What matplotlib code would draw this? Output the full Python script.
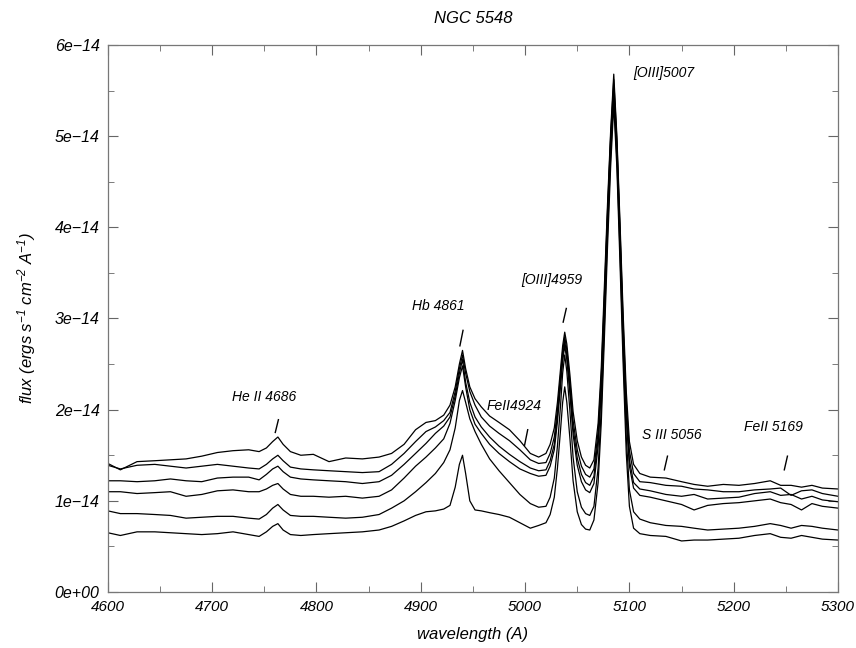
import matplotlib
matplotlib.use("Agg")
import matplotlib.pyplot as plt
import numpy as np
from matplotlib.ticker import MultipleLocator, FixedLocator, FixedFormatter

plt.rcParams['font.family'] = ['Liberation Sans', 'DejaVu Sans']
plt.rcParams['font.style'] = 'italic'
plt.rcParams['mathtext.fontset'] = 'custom'
plt.rcParams['mathtext.rm'] = 'Liberation Sans:italic'
plt.rcParams['mathtext.it'] = 'Liberation Sans:italic'

# observed wavelength (A)
wave = [4600, 4612, 4628, 4645, 4660, 4675, 4690, 4705, 4720, 4735, 4745, 4752, 4758, 4763, 4768,
        4775, 4785, 4797, 4812, 4828, 4844, 4860, 4872, 4884, 4895, 4905, 4914, 4922, 4928, 4933,
        4937, 4940, 4943, 4947, 4952, 4958, 4966, 4975, 4985, 4995, 5005,
        5013, 5020, 5024, 5028, 5031, 5034, 5036, 5038, 5040, 5043, 5046, 5050, 5054, 5058, 5062,
        5066, 5070, 5073, 5076, 5079, 5082, 5085, 5088, 5091, 5094, 5097, 5100, 5104, 5110,
        5120, 5135, 5150, 5162, 5175, 5190, 5205, 5220, 5235, 5245, 5255, 5265, 5275, 5285, 5300]

# flux in units of 1e-14 erg/s/cm2/A, six epochs from top to bottom
flux_a = [1.41, 1.34, 1.43, 1.44, 1.45, 1.46, 1.49, 1.53, 1.55, 1.56, 1.54, 1.58, 1.65, 1.70, 1.62,
          1.54, 1.50, 1.51, 1.43, 1.47, 1.46, 1.48, 1.52, 1.62, 1.78, 1.86, 1.88, 1.94, 2.05, 2.25,
          2.50, 2.65, 2.45, 2.25, 2.12, 2.03, 1.93, 1.86, 1.78, 1.66, 1.52,
          1.48, 1.52, 1.62, 1.80, 2.08, 2.45, 2.70, 2.85, 2.72, 2.38, 1.98, 1.66, 1.48, 1.39, 1.36,
          1.45, 1.85, 2.45, 3.35, 4.25, 5.05, 5.68, 5.00, 4.05, 3.05, 2.20, 1.65, 1.40, 1.30,
          1.26, 1.25, 1.21, 1.18, 1.16, 1.18, 1.17, 1.19, 1.22, 1.17, 1.17, 1.15, 1.17, 1.14, 1.13]
flux_b = [1.39, 1.35, 1.39, 1.40, 1.38, 1.36, 1.38, 1.40, 1.38, 1.36, 1.35, 1.40, 1.46, 1.50, 1.44,
          1.37, 1.35, 1.34, 1.33, 1.32, 1.31, 1.32, 1.40, 1.52, 1.65, 1.76, 1.81, 1.88, 1.97, 2.20,
          2.45, 2.60, 2.40, 2.20, 2.05, 1.92, 1.82, 1.74, 1.66, 1.56, 1.45,
          1.41, 1.42, 1.52, 1.70, 2.00, 2.38, 2.64, 2.80, 2.66, 2.30, 1.88, 1.56, 1.38, 1.29, 1.26,
          1.35, 1.76, 2.36, 3.25, 4.18, 5.00, 5.62, 4.95, 3.98, 2.95, 2.08, 1.55, 1.30, 1.21,
          1.20, 1.17, 1.16, 1.13, 1.12, 1.10, 1.10, 1.12, 1.13, 1.14, 1.06, 1.11, 1.12, 1.08, 1.05]
flux_c = [1.22, 1.22, 1.21, 1.22, 1.24, 1.22, 1.21, 1.25, 1.26, 1.26, 1.23, 1.29, 1.35, 1.38, 1.32,
          1.26, 1.24, 1.23, 1.22, 1.21, 1.19, 1.21, 1.28, 1.40, 1.52, 1.63, 1.74, 1.82, 1.92, 2.15,
          2.40, 2.55, 2.30, 2.08, 1.92, 1.81, 1.70, 1.60, 1.51, 1.43, 1.36,
          1.33, 1.34, 1.44, 1.62, 1.93, 2.32, 2.58, 2.75, 2.60, 2.23, 1.80, 1.47, 1.29, 1.20, 1.17,
          1.27, 1.68, 2.28, 3.18, 4.12, 4.95, 5.55, 4.90, 3.92, 2.88, 1.98, 1.45, 1.20, 1.13,
          1.11, 1.07, 1.05, 1.07, 1.02, 1.03, 1.04, 1.08, 1.10, 1.06, 1.07, 1.02, 1.05, 1.01, 0.99]
flux_d = [1.10, 1.10, 1.08, 1.09, 1.10, 1.05, 1.07, 1.11, 1.12, 1.10, 1.10, 1.13, 1.17, 1.19, 1.13,
          1.07, 1.05, 1.05, 1.04, 1.05, 1.03, 1.05, 1.12, 1.25, 1.38, 1.48, 1.58, 1.68, 1.85, 2.10,
          2.35, 2.48, 2.25, 2.00, 1.84, 1.74, 1.62, 1.52, 1.43, 1.35, 1.30,
          1.27, 1.28, 1.38, 1.56, 1.87, 2.26, 2.53, 2.70, 2.55, 2.17, 1.73, 1.39, 1.21, 1.12, 1.09,
          1.19, 1.60, 2.20, 3.10, 4.06, 4.90, 5.50, 4.85, 3.86, 2.82, 1.90, 1.38, 1.14, 1.06,
          1.04, 1.00, 0.96, 0.90, 0.95, 0.97, 0.98, 1.00, 1.02, 0.98, 0.96, 0.90, 0.97, 0.94, 0.92]
flux_e = [0.89, 0.86, 0.86, 0.85, 0.84, 0.81, 0.82, 0.83, 0.83, 0.81, 0.80, 0.85, 0.92, 0.96, 0.90,
          0.84, 0.83, 0.83, 0.82, 0.81, 0.82, 0.85, 0.92, 1.00, 1.10, 1.20, 1.30, 1.42, 1.56, 1.80,
          2.10, 2.21, 2.08, 1.90, 1.76, 1.62, 1.46, 1.33, 1.20, 1.07, 0.97,
          0.93, 0.94, 1.04, 1.25, 1.60, 2.05, 2.40, 2.60, 2.42, 1.98, 1.48, 1.10, 0.93, 0.86, 0.84,
          0.94, 1.36, 2.00, 2.92, 3.92, 4.78, 5.42, 4.75, 3.72, 2.65, 1.70, 1.12, 0.88, 0.80,
          0.76, 0.73, 0.72, 0.70, 0.68, 0.69, 0.70, 0.72, 0.75, 0.73, 0.70, 0.73, 0.72, 0.70, 0.68]
flux_f = [0.65, 0.62, 0.66, 0.66, 0.65, 0.64, 0.63, 0.64, 0.66, 0.63, 0.61, 0.66, 0.72, 0.75, 0.68,
          0.63, 0.62, 0.63, 0.64, 0.65, 0.66, 0.68, 0.72, 0.78, 0.84, 0.88, 0.89, 0.91, 0.95, 1.15,
          1.40, 1.50, 1.30, 1.00, 0.90, 0.89, 0.87, 0.85, 0.82, 0.76, 0.70,
          0.73, 0.76, 0.85, 1.04, 1.36, 1.78, 2.08, 2.25, 2.08, 1.68, 1.22, 0.88, 0.74, 0.69, 0.68,
          0.79, 1.20, 1.85, 2.78, 3.78, 4.66, 5.35, 4.65, 3.60, 2.50, 1.52, 0.94, 0.70, 0.64,
          0.62, 0.61, 0.56, 0.57, 0.57, 0.58, 0.59, 0.62, 0.64, 0.60, 0.59, 0.62, 0.60, 0.58, 0.57]

# line identifications: text, text position, marker position (wavelength, flux low, flux high)
line_names = ['He II 4686', 'Hb 4861', 'FeII4924', '[OIII]4959', '[OIII]5007', 'S III 5056', 'FeII 5169']
name_wave = [4750, 4917, 4989, 5026, 5133, 5141, 5238]
name_flux = [2.14, 3.14, 2.04, 3.42, 5.69, 1.72, 1.81]
mark_wave = [4762, 4939, 5001, 5038, None, 5135, 5250]
mark_lo = [1.75, 2.70, 1.61, 2.96, None, 1.34, 1.34]
mark_hi = [1.89, 2.87, 1.78, 3.11, None, 1.49, 1.49]

ytick_vals = [0, 1, 2, 3, 4, 5, 6]
ytick_text = ['0e+00', '1e\u221214', '2e\u221214', '3e\u221214', '4e\u221214', '5e\u221214', '6e\u221214']

scale = 1e-14
fig = plt.figure(figsize=(8.56, 6.48), dpi=100)
ax = fig.add_axes([0.126, 0.0864, 0.853, 0.8442])

for fl in [flux_f, flux_e, flux_d, flux_c, flux_b, flux_a]:
    ax.plot(wave, np.array(fl) * scale, color='black', lw=0.9)

for name, tw, tf, mw, lo, hi in zip(line_names, name_wave, name_flux, mark_wave, mark_lo, mark_hi):
    ax.text(tw, tf * scale, name, ha='center', va='center', fontsize=10, style='italic')
    if mw is not None:
        ax.plot([mw - 1.5, mw + 1.5], [lo * scale, hi * scale], color='black', lw=1.0)

ax.set_xlim(4600, 5300)
ax.set_ylim(0, 6e-14)
ax.xaxis.set_major_locator(MultipleLocator(100))
ax.xaxis.set_minor_locator(MultipleLocator(50))
ax.yaxis.set_major_locator(FixedLocator([v * scale for v in ytick_vals]))
ax.yaxis.set_major_formatter(FixedFormatter(ytick_text))
ax.yaxis.set_minor_locator(MultipleLocator(0.5e-14))
ax.tick_params(which='both', direction='in', top=True, right=True, color='#666666',
               labelsize=11, pad=6)
ax.tick_params(axis='y', labelsize=11.5)
ax.tick_params(which='major', length=7)
ax.tick_params(which='minor', length=4)
for sp in ax.spines.values():
    sp.set_color('#777777')
    sp.set_linewidth(0.9)
for lab in ax.get_xticklabels() + ax.get_yticklabels():
    lab.set_style('italic')

ax.set_xlabel('wavelength (A)', fontsize=12, style='italic', labelpad=9)
ax.set_ylabel(r'flux (ergs s$^{-1}$ cm$^{-2}$ A$^{-1}$)', fontsize=12, style='italic', labelpad=12)
ax.set_title('NGC 5548', fontsize=12, style='italic', pad=16)

fig.savefig('out.png', dpi=100)
